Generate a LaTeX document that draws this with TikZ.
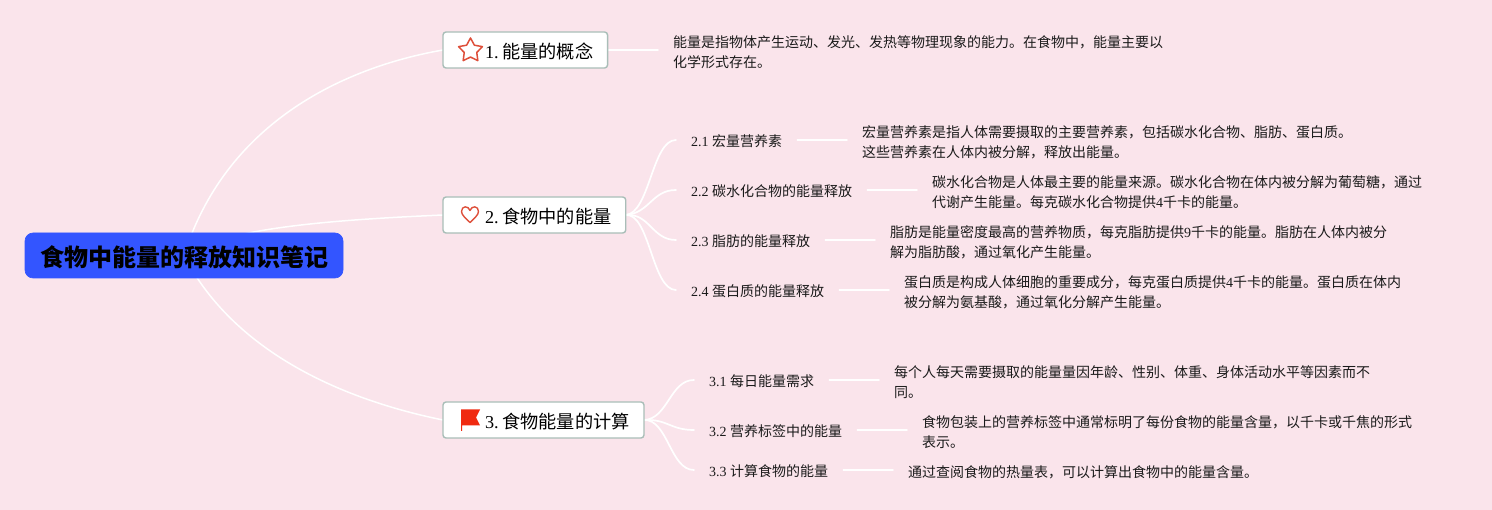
\documentclass[tikz,border=0pt]{standalone}
\usepackage{fontspec}
\setmainfont{Noto Sans CJK SC}
\newfontfamily\latf{Liberation Serif}
\newcommand{\lt}[1]{{\latf #1}}
\newcommand{\mtext}[2]{\hspace*{27.7pt}\lt{#1}\hspace{3.6pt}#2}
\newcommand{\stext}[2]{\lt{#1 }#2}
\usetikzlibrary{shapes.geometric,calc}
\pgfdeclarelayer{bgl}
\pgfdeclarelayer{linel}
\pgfsetlayers{bgl,linel,main}
\tikzset{
  x=1pt,y=-1pt,
  rootbox/.style={draw=rootblue,fill=rootblue,rounded corners=8pt,line width=0.6pt,outer sep=0pt,minimum width=318pt,minimum height=45pt,inner sep=0pt,text height=21.4pt,text depth=0pt,text=black,font=\fontsize{24}{28}\selectfont\bfseries},
  mainbox/.style={draw=boxedge,fill=white,rounded corners=3pt,line width=1.4pt,outer sep=0pt,minimum height=36pt,inner xsep=14.3pt,inner ysep=0pt,anchor=west,text height=17.4pt,text depth=0pt,text=black,font=\fontsize{18.2}{22}\selectfont},
  subnode/.style={anchor=west,inner xsep=15pt,inner ysep=2pt,text height=12.6pt,text depth=0pt,text=textk,font=\fontsize{14}{20}\selectfont},
  bodynode/.style={anchor=west,inner xsep=15pt,inner ysep=2pt,align=left,text=textk,font=\fontsize{14}{20}\selectfont},
  conn/.style={draw=white,line width=1.7pt,line cap=round},
  rootconn/.style={draw=white,line width=1.5pt,line cap=round},
}
\definecolor{pinkbg}{HTML}{FAE4EB}
\definecolor{rootblue}{HTML}{3355FF}
\definecolor{boxedge}{HTML}{A9BEB8}
\definecolor{textk}{HTML}{1A1A1A}
\definecolor{iconred}{HTML}{DE4F3A}
\definecolor{flagred}{HTML}{F02A10}
\begin{document}
\begin{tikzpicture}
\useasboundingbox (0,0) rectangle (1492,510);
\begin{pgfonlayer}{bgl}
\fill[pinkbg] (0,0) rectangle (1492,510);
\end{pgfonlayer}
\node[rootbox] (root) at (184,255.5) {\hspace*{1.5pt}食物中能量的释放知识笔记};
\node[mainbox] (m1) at (443,50) {\mtext{1.}{能量的概念}};
\node[mainbox] (m2) at (443,215) {\mtext{2.}{食物中的能量}};
\node[mainbox] (m3) at (443,420) {\mtext{3.}{食物能量的计算}};
\node[subnode] (s21) at (676,140) {\stext{2.1}{宏量营养素}};
\node[subnode] (s22) at (676,190) {\stext{2.2}{碳水化合物的能量释放}};
\node[subnode] (s23) at (676,240) {\stext{2.3}{脂肪的能量释放}};
\node[subnode] (s24) at (676,290) {\stext{2.4}{蛋白质的能量释放}};
\node[subnode] (s31) at (694,380) {\stext{3.1}{每日能量需求}};
\node[subnode] (s32) at (694,430) {\stext{3.2}{营养标签中的能量}};
\node[subnode] (s33) at (694,470) {\stext{3.3}{计算食物的能量}};
\node[bodynode] (b1) at (658,52) {能量是指物体产生运动、发光、发热等物理现象的能力。在食物中，能量主要以\\化学形式存在。};
\node[bodynode] (b21) at (847,142) {宏量营养素是指人体需要摄取的主要营养素，包括碳水化合物、脂肪、蛋白质。\\这些营养素在人体内被分解，释放出能量。};
\node[bodynode] (b22) at (917,192) {碳水化合物是人体最主要的能量来源。碳水化合物在体内被分解为葡萄糖，通过\\代谢产生能量。每克碳水化合物提供\lt{4}千卡的能量。};
\node[bodynode] (b23) at (875,242) {脂肪是能量密度最高的营养物质，每克脂肪提供\lt{9}千卡的能量。脂肪在人体内被分\\解为脂肪酸，通过氧化产生能量。};
\node[bodynode] (b24) at (889,292) {蛋白质是构成人体细胞的重要成分，每克蛋白质提供\lt{4}千卡的能量。蛋白质在体内\\被分解为氨基酸，通过氧化分解产生能量。};
\node[bodynode] (b31) at (879,382) {每个人每天需要摄取的能量量因年龄、性别、体重、身体活动水平等因素而不\\同。};
\node[bodynode] (b32) at (907,432) {食物包装上的营养标签中通常标明了每份食物的能量含量，以千卡或千焦的形式\\表示。};
\node[bodynode] (b33) at (893,472) {通过查阅食物的热量表，可以计算出食物中的能量含量。};
% icons
\node[star,star points=5,star point ratio=1.9,draw=iconred,line width=1.5pt,line join=round,minimum size=25pt,inner sep=0pt] (ic1) at (470.5,50.5) {};
\draw[iconred,line width=1.4pt,line join=round] (470,222.5) .. controls (466,218.5) and (461.5,215) .. (461.5,211.5) .. controls (461.5,205.5) and (468.5,205.5) .. (470,210.5) .. controls (471.5,205.5) and (478.5,205.5) .. (478.5,211.5) .. controls (478.5,215) and (474,218.5) .. (470,222.5) -- cycle;
\fill[flagred] (461,409.5) -- (480,409.5) -- (476,417.5) -- (480,425.5) -- (462,425.5) -- (462,431) -- (461,431) -- cycle;
\begin{pgfonlayer}{linel}
\draw[rootconn] (root.center) .. controls (225,125) and (340,68) .. (m1.west);
\draw[rootconn] (root.center) .. controls (225,228) and (330,220) .. (m2.west);
\draw[rootconn] (root.center) .. controls (230,345) and (330,397) .. (m3.west);
\draw[conn] (m1.east) -- (b1.west |- m1.east);
\foreach \s in {s21,s22,s23,s24}{
  \draw[conn] (m2.east) .. controls ($(m2.east)+(24,-2)$) and ($(\s.west)+(-24,0)$) .. (\s.west);
}
\foreach \s in {s31,s32,s33}{
  \draw[conn] (m3.east) .. controls ($(m3.east)+(24,-1)$) and ($(\s.west)+(-24,0)$) .. (\s.west);
}
\draw[conn] (s21.east) -- (b21.west |- s21.east);
\draw[conn] (s22.east) -- (b22.west |- s22.east);
\draw[conn] (s23.east) -- (b23.west |- s23.east);
\draw[conn] (s24.east) -- (b24.west |- s24.east);
\draw[conn] (s31.east) -- (b31.west |- s31.east);
\draw[conn] (s32.east) -- (b32.west |- s32.east);
\draw[conn] (s33.east) -- (b33.west |- s33.east);
\end{pgfonlayer}
\end{tikzpicture}
\end{document}
